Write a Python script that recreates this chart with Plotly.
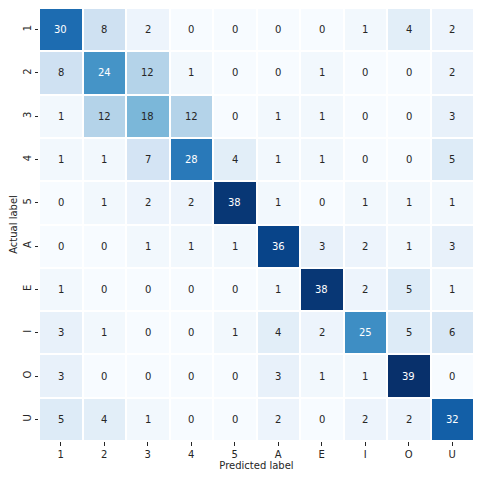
import plotly.graph_objects as go
import numpy as np

labels = ["1", "2", "3", "4", "5", "A", "E", "I", "O", "U"]
matrix = [
    [30, 8, 2, 0, 0, 0, 0, 1, 4, 2],
    [8, 24, 12, 1, 0, 0, 1, 0, 0, 2],
    [1, 12, 18, 12, 0, 1, 1, 0, 0, 3],
    [1, 1, 7, 28, 4, 1, 1, 0, 0, 5],
    [0, 1, 2, 2, 38, 1, 0, 1, 1, 1],
    [0, 0, 1, 1, 1, 36, 3, 2, 1, 3],
    [1, 0, 0, 0, 0, 1, 38, 2, 5, 1],
    [3, 1, 0, 0, 1, 4, 2, 25, 5, 6],
    [3, 0, 0, 0, 0, 3, 1, 1, 39, 0],
    [5, 4, 1, 0, 0, 2, 0, 2, 2, 32],
]

blues = [(247, 251, 255), (222, 235, 247), (198, 219, 239), (158, 202, 225),
         (107, 174, 214), (66, 146, 198), (33, 113, 181), (8, 81, 156), (8, 48, 107)]
stops = np.linspace(0, 1, len(blues))
colorscale = [[float(s), "rgb(%d,%d,%d)" % c] for s, c in zip(stops, blues)]

z = np.array(matrix, dtype=float)
vmin, vmax = z.min(), z.max()


def luminance_at(v):
    t = (v - vmin) / (vmax - vmin)
    arr = np.array(blues, dtype=float)
    r = np.interp(t, stops, arr[:, 0]) / 255
    g = np.interp(t, stops, arr[:, 1]) / 255
    b = np.interp(t, stops, arr[:, 2]) / 255
    def lin(c):
        return c / 12.92 if c <= 0.03928 else ((c + 0.055) / 1.055) ** 2.4
    return 0.2126 * lin(r) + 0.7152 * lin(g) + 0.0722 * lin(b)


idx = list(range(len(labels)))

fig = go.Figure()
fig.add_trace(go.Heatmap(
    z=matrix, x=idx, y=idx, colorscale=colorscale,
    zmin=vmin, zmax=vmax, showscale=False, xgap=2, ygap=2,
    hoverinfo="skip",
))

annotations = []
for i, row in enumerate(matrix):
    for j, v in enumerate(row):
        col = "#262626" if luminance_at(v) > 0.408 else "white"
        annotations.append(dict(x=j, y=i, xref="x", yref="y", text=str(v), showarrow=False,
                                font=dict(size=10, color=col, family="DejaVu Sans")))

fig.update_layout(
    width=480, height=480,
    margin=dict(l=39, r=6, t=8, b=39),
    paper_bgcolor="white", plot_bgcolor="white",
    font=dict(family="DejaVu Sans", size=10, color="#262626"),
    annotations=annotations,
    xaxis=dict(title=dict(text="Predicted label", standoff=2, font=dict(size=10)),
               tickmode="array", tickvals=idx, ticktext=labels,
               range=[-0.5, len(labels) - 0.5],
               ticks="outside", ticklen=3.5, tickcolor="#262626", showgrid=False,
               zeroline=False, showline=False, tickfont=dict(size=10)),
    yaxis=dict(title=dict(text="Actual label", standoff=2, font=dict(size=10)),
               tickmode="array", tickvals=idx, ticktext=labels,
               range=[len(labels) - 0.5, -0.5],
               ticks="outside", ticklen=3.5, tickcolor="#262626",
               tickangle=-90, showgrid=False, zeroline=False, showline=False,
               tickfont=dict(size=10)),
)

fig.write_html("out.html")
